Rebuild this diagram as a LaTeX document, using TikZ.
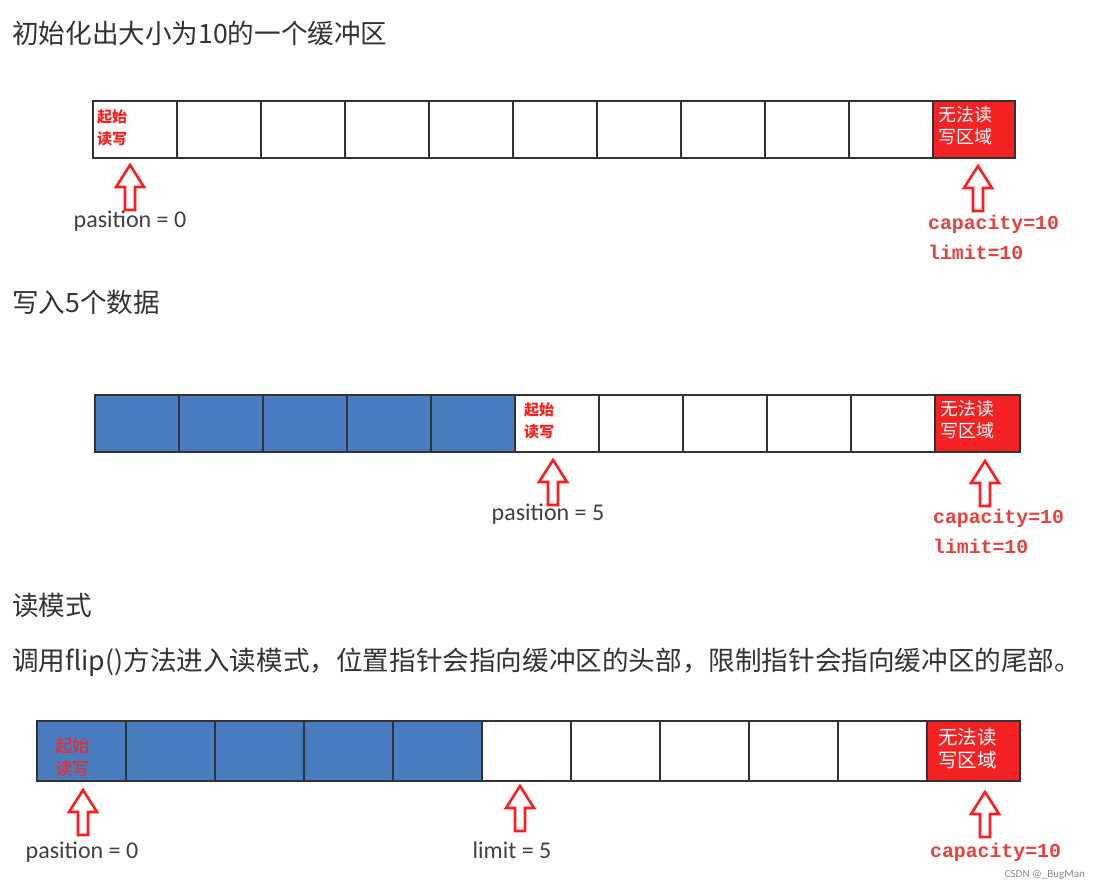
\documentclass[tikz,border=0pt]{standalone}
\usepackage{fontspec}
\setmainfont{Carlito}
\newfontfamily\cjk{Noto Sans CJK SC}
\newfontfamily\monof{Liberation Mono}
\definecolor{titlecol}{HTML}{333333}
\definecolor{lblgray}{HTML}{404040}
\definecolor{arrred}{HTML}{FF1E1E}
\definecolor{cellred}{HTML}{F42222}
\definecolor{cellblue}{HTML}{4A7CC0}
\definecolor{monored}{HTML}{E8403A}
\definecolor{bordercol}{HTML}{333333}
\tikzset{
  title/.style={anchor=west, inner sep=0pt, font=\cjk\fontsize{26.6}{30}\selectfont, text=titlecol},
  cellbox/.style={draw=bordercol, line width=1.8pt, inner sep=0pt},
  startlbl/.style={anchor=north west, inner sep=0pt, align=left, text=arrred, font=\cjk\bfseries\fontsize{15}{22}\selectfont},
  blocklbl/.style={anchor=north west, inner sep=0pt, align=left, text=white, font=\cjk\fontsize{18}{22}\selectfont},
  poslbl/.style={inner sep=0pt, text=lblgray, font=\fontsize{24}{26}\selectfont},
  monolbl/.style={anchor=west, inner sep=0pt, text=monored, font=\monof\bfseries\fontsize{19.8}{22}\selectfont},
  pics/uparrow/.style={code={
    \draw[arrred, line width=2.6pt, fill=white, line join=miter]
      (0,0) -- (14,22) -- (5,22) -- (5,45) -- (-5,45) -- (-5,22) -- (-14,22) -- cycle;
  }}
}
\begin{document}
\begin{tikzpicture}[x=1pt, y=-1pt]
\useasboundingbox (0,0) rectangle (1097,884);
\fill[white] (0,0) rectangle (1097,884);

% ---------- titles ----------
\node[title] (t1) at (12,33) {初始化出大小为10的一个缓冲区};
\node[title] (t2) at (12,302) {写入5个数据};
\node[title] (t3) at (12,605) {读模式};
\node[title] (t4) at (12,662) {调用flip()方法进入读模式，位置指针会指向缓冲区的头部，限制指针会指向缓冲区的尾部。};

% ---------- row 1 ----------
\foreach \i in {0,...,9} {
  \node[cellbox, fill=white, minimum width=84pt, minimum height=57pt] (a\i) at ({93+84*\i+42},129.5) {};
}
\node[cellbox, fill=cellred, minimum width=82pt, minimum height=57pt] (a10) at (974,129.5) {};
\node[startlbl] (a0l) at (97,109) {起始\\读写};
\node[blocklbl] (a10l) at (938,106) {无法读\\写区域};
\pic at (130,165) {uparrow};
\node[poslbl] (p1) at (130,221) {pasition = 0};
\pic at (978,166) {uparrow};
\node[monolbl] (c1) at (928,224) {capacity=10};
\node[monolbl] (l1) at (928,252) {limit=10};

% ---------- row 2 ----------
\foreach \i in {0,...,4} {
  \node[cellbox, fill=cellblue, minimum width=84pt, minimum height=57pt] (b\i) at ({95+84*\i+42},423.5) {};
}
\foreach \i in {5,...,9} {
  \node[cellbox, fill=white, minimum width=84pt, minimum height=57pt] (b\i) at ({95+84*\i+42},423.5) {};
}
\node[cellbox, fill=cellred, minimum width=85pt, minimum height=57pt] (b10) at (977.5,423.5) {};
\node[startlbl] (b5l) at (524,402) {起始\\读写};
\node[blocklbl] (b10l) at (940,400) {无法读\\写区域};
\pic at (553,460) {uparrow};
\node[poslbl] (p2) at (548,514) {pasition = 5};
\pic at (985,461) {uparrow};
\node[monolbl] (c2) at (933,518) {capacity=10};
\node[monolbl] (l2) at (933,546) {limit=10};

% ---------- row 3 ----------
\foreach \i in {0,...,4} {
  \node[cellbox, fill=cellblue, minimum width=89pt, minimum height=60pt] (c\i) at ({37+89*\i+44.5},751) {};
}
\foreach \i in {5,...,9} {
  \node[cellbox, fill=white, minimum width=89pt, minimum height=60pt] (c\i) at ({37+89*\i+44.5},751) {};
}
\node[cellbox, fill=cellred, minimum width=93pt, minimum height=60pt] (c10) at (973.5,751) {};
\node[startlbl, font=\cjk\fontsize{17.5}{23}\selectfont] (c0l) at (55,738) {起始\\读写};
\node[blocklbl, font=\cjk\fontsize{19.5}{23}\selectfont] (c10l) at (938,728) {无法读\\写区域};
\pic at (83,790) {uparrow};
\node[poslbl] (p3) at (82,852) {pasition = 0};
\pic at (520,786) {uparrow};
\node[poslbl] (p4) at (512,850) {limit = 5};
\pic at (985,792) {uparrow};
\node[monolbl] (c3) at (930,852) {capacity=10};

% watermark
\node[anchor=east, inner sep=0pt, text=black!45, font=\fontsize{11}{13}\selectfont] (wm) at (1085,875) {CSDN @\_BugMan};
\end{tikzpicture}
\end{document}
